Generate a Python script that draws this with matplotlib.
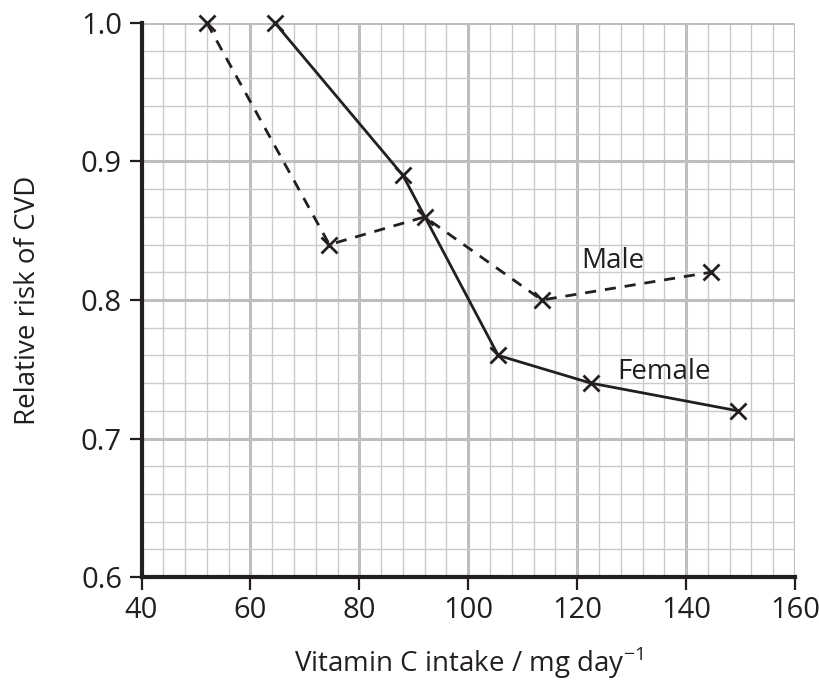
import matplotlib
matplotlib.use("Agg")

import matplotlib.pyplot as plt
from matplotlib.ticker import MultipleLocator


male_x = [52, 74.5, 92, 113.5, 144.5]
male_y = [1.0, 0.84, 0.86, 0.80, 0.82]

female_x = [64.5, 88, 105.5, 122.5, 149.5]
female_y = [1.0, 0.89, 0.76, 0.74, 0.72]

x_ticks = [40, 60, 80, 100, 120, 140, 160]
y_ticks = [0.6, 0.7, 0.8, 0.9, 1.0]

INK = "#231f20"
MAJOR = "#bcbec0"
MINOR = "#c8cacc"

plt.rcParams["font.family"] = ["Open Sans", "DejaVu Sans"]
plt.rcParams["mathtext.fontset"] = "custom"
plt.rcParams["mathtext.rm"] = "Open Sans"

fig = plt.figure(figsize=(8.19, 6.88), dpi=100)
ax = fig.add_axes([0.1728, 0.1613, 0.7979, 0.8053])

ax.set_xlim(40, 160)
ax.set_ylim(0.6, 1.0)

ax.xaxis.set_minor_locator(MultipleLocator(4))
ax.yaxis.set_minor_locator(MultipleLocator(0.02))
ax.set_xticks(x_ticks)
ax.set_yticks(y_ticks)
ax.set_yticklabels([f"{v:.1f}" for v in y_ticks])

ax.grid(which="minor", color=MINOR, linewidth=1.0, zorder=0)
ax.grid(which="major", color=MAJOR, linewidth=2.2, zorder=0)
ax.set_axisbelow(True)

ax.plot(
    male_x, male_y,
    color=INK, linewidth=2, linestyle=(0, (4, 3.2)),
    marker="x", markersize=12, markeredgewidth=2,
    clip_on=False, zorder=3
)
ax.plot(
    female_x, female_y,
    color=INK, linewidth=2,
    marker="x", markersize=12, markeredgewidth=2,
    clip_on=False, zorder=3
)

ax.text(126.5, 0.828, "Male", fontsize=20, color=INK,
        ha="center", va="center")
ax.text(136, 0.748, "Female", fontsize=20, color=INK,
        ha="center", va="center")

for side in ["top", "right"]:
    ax.spines[side].set_visible(False)
for side in ["left", "bottom"]:
    ax.spines[side].set_color(INK)
    ax.spines[side].set_linewidth(3)

ax.tick_params(which="major", direction="out", length=9, width=1.6,
               color=INK, labelsize=21, labelcolor=INK, pad=5)
ax.tick_params(which="minor", length=0)

ax.set_xlabel(r"Vitamin C intake / mg day$^{\mathrm{-1}}$", fontsize=20,
              color=INK, labelpad=14)
ax.set_ylabel("Relative risk of CVD", fontsize=20, color=INK,
              labelpad=28)

fig.savefig("out.png", dpi=100)
